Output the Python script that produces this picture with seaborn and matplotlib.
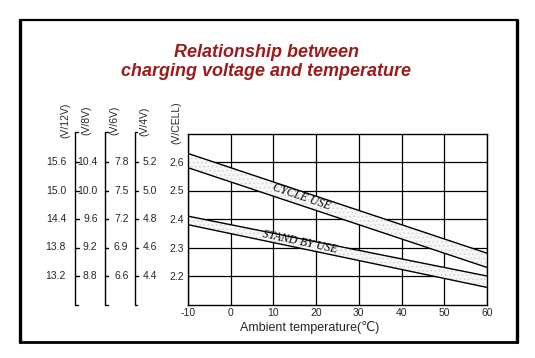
import numpy as np
import pandas as pd
import matplotlib
matplotlib.use("Agg")
import matplotlib.pyplot as plt
import matplotlib.transforms as mtransforms
from matplotlib.lines import Line2D
import seaborn as sns

# Values (V/cell)
temps = [-10, 60]
cycle_high = [2.63, 2.28]
cycle_low = [2.58, 2.23]
standby_high = [2.41, 2.20]
standby_low = [2.38, 2.16]

x_ticks = [-10, 0, 10, 20, 30, 40, 50, 60]
cell_ticks = [2.6, 2.5, 2.4, 2.3, 2.2]
cell_labels = ["2.6", "2.5", "2.4", "2.3", "2.2"]
v12_labels = ["15.6", "15.0", "14.4", "13.8", "13.2"]
v8_labels = ["10.4", "10.0", "9.6", "9.2", "8.8"]
v6_labels = ["7.8", "7.5", "7.2", "6.9", "6.6"]
v4_labels = ["5.2", "5.0", "4.8", "4.6", "4.4"]

sns.set_style("white")
plt.rcParams["font.family"] = ["Liberation Sans", "DejaVu Sans"]
plt.rcParams["hatch.linewidth"] = 0.5

W, H = 535, 358
fig = plt.figure(figsize=(W / 100, H / 100), dpi=100)
ax = fig.add_axes([188 / W, 1 - 304.5 / H, (487 - 188) / W, (304.5 - 133.5) / H])

# Bands
ax.fill_between(temps, cycle_low, cycle_high, facecolor="#f6f6f6",
                edgecolor="#d0d0d0", hatch="....", linewidth=0, zorder=2)
ax.fill_between(temps, standby_low, standby_high, facecolor="#f6f6f6",
                edgecolor="#d0d0d0", hatch="....", linewidth=0, zorder=2)

df = pd.DataFrame({
    "temp": temps,
    "cycle_high": cycle_high,
    "cycle_low": cycle_low,
    "standby_high": standby_high,
    "standby_low": standby_low,
})
long_df = df.melt("temp", var_name="line", value_name="volt")
sns.lineplot(data=long_df, x="temp", y="volt", units="line", estimator=None,
             color="black", linewidth=1.0, ax=ax, zorder=3)

ax.set_xlim(-10, 60)
ax.set_ylim(2.1, 2.7)
ax.set_xticks(x_ticks)
ax.set_xticklabels([str(t) for t in x_ticks])
ax.set_yticks(cell_ticks)
ax.set_yticklabels(cell_labels)
ax.grid(True, color="black", linewidth=0.9, zorder=1)
ax.set_axisbelow(True)
ax.tick_params(length=0, labelsize=7.5)
ax.tick_params(axis="x", pad=2.5)
ax.tick_params(axis="y", pad=3)
ax.set_xlabel("")
ax.set_ylabel("")
for sp in ax.spines.values():
    sp.set_color("black")
    sp.set_linewidth(1.0)

# Band labels
ax.text(16.6, 2.478, "CYCLE USE", rotation=-19, rotation_mode="anchor",
        ha="center", va="center", fontsize=8.5, family="Liberation Serif",
        style="italic", color="black", zorder=4)
ax.text(16.1, 2.32, "STAND BY USE", rotation=-12, rotation_mode="anchor",
        ha="center", va="center", fontsize=8.5, family="Liberation Serif",
        style="italic", color="black", zorder=4)

# Extra voltage scales on the left
trans = mtransforms.blended_transform_factory(fig.transFigure, ax.transData)
for labels, xr in [(v12_labels, 66), (v8_labels, 97.5), (v6_labels, 128.5), (v4_labels, 157)]:
    for y, s in zip(cell_ticks, labels):
        ax.text(xr / W, y, s, transform=trans, ha="right", va="center", fontsize=7.5)

for xb in [75, 104.5, 134.5]:
    ax.plot([(xb + 3) / W, xb / W, xb / W, (xb + 3) / W], [2.705, 2.705, 2.1, 2.1],
            transform=trans, clip_on=False, color="black", linewidth=1.0)
    for y in cell_ticks:
        ax.plot([xb / W, (xb + 3.5) / W], [y, y], transform=trans, clip_on=False,
                color="black", linewidth=1.0)

headers = [("(V/12V)", 65, 120), ("(V/8V)", 86, 120.5), ("(V/6V)", 114, 120),
           ("(V/4V)", 144, 121), ("(V/CELL)", 176, 122.5)]
for s, x, y in headers:
    fig.text(x / W, 1 - y / H, s, rotation=90, ha="center", va="center", fontsize=7.5)

fig.text(310 / W, 1 - 327 / H, "Ambient temperature(\u2103)", ha="center", va="center",
         fontsize=9)

# Title
title_color = "#9b1c1c"
fig.text(266 / W, 1 - 52.5 / H, "Relationship between", ha="center", va="center",
         fontsize=13, fontweight="bold", style="italic", color=title_color)
fig.text(266 / W, 1 - 71 / H, "charging voltage and temperature", ha="center",
         va="center", fontsize=13, fontweight="bold", style="italic", color=title_color)

# Outer frame
l, r, t, b = 20 / W, 517 / W, 1 - 20 / H, 1 - 342 / H
fig.add_artist(Line2D([l, r], [t, t], color="black", linewidth=1.6))
fig.add_artist(Line2D([l, r], [b, b], color="black", linewidth=2.0))
fig.add_artist(Line2D([l, l], [b, t], color="black", linewidth=2.4))
fig.add_artist(Line2D([r, r], [b, t], color="black", linewidth=2.4))

fig.savefig("out.png", dpi=100)
